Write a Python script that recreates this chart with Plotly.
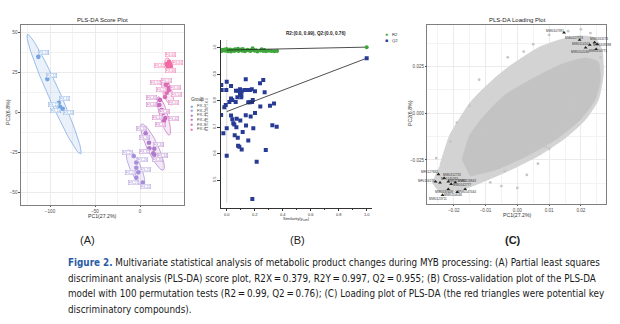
import numpy as np
import plotly.graph_objects as go

W, H = 620, 324

# ---------------- Panel A : PLS-DA score plot ----------------
groups = ["FX-1", "FX-2", "FX-3", "FX-4", "FX-5", "FX-6"]
group_colors = ["#74a3e0", "#a58fd8", "#b07bcc", "#c76cc0", "#dc6cb4", "#f06aa4"]

fx1_pc1 = [-113, -103, -90.3, -91.9, -88.9, -85.9]
fx1_pc2 = [34.7, 20.8, 6.0, 4.4, 3.5, 2.3]
fx1_lab = ["FX-13", "FX-12", "FX-11", "FX-15", "FX-14", "FX-16"]

fx2_pc1 = [-7.0, -4.1, -4.1, -1.9, -4.1, 3.0]
fx2_pc2 = [-27.3, -31.3, -34.6, -37.5, -40.8, -43.8]
fx2_lab = ["FX-25", "FX-26", "FX-24", "FX-23", "FX-21", "FX-22"]

fx3_pc1 = [6.3, 10.0, 10.4, 15.9, 14.8, 15.9]
fx3_pc2 = [-13.1, -19.0, -22.5, -22.7, -25.6, -26.5]
fx3_lab = ["FX-31", "FX-36", "FX-32", "FX-33", "FX-34", "FX-35"]

fx4_pc1 = [22.2, 21.5, 24.1, 25.9, 28.1, 26.7]
fx4_pc2 = [7.7, 4.6, 1.4, -0.3, -3.6, -5.2]
fx4_lab = ["FX-45", "FX-44", "FX-46", "FX-41", "FX-42", "FX-43"]

fx5_pc1 = [28.6, 31.4, 29.7, 32.2, 30.3, 27.8]
fx5_pc2 = [17.3, 15.4, 12.3, 14.0, 18.5, 9.6]
fx5_lab = ["FX-52", "FX-56", "FX-53", "FX-54", "FX-55", "FX-51"]

fx6_pc1 = [29.6, 32.2, 34.1, 31.4, 30.3, 33.3]
fx6_pc2 = [30.2, 31.6, 28.8, 28.4, 29.6, 30.2]
fx6_lab = ["FX-62", "FX-65", "FX-61", "FX-66", "", ""]

# confidence ellipses: major-axis end points (PC1, PC2)
ell_p1 = [(-125, 48.7), (-13.7, -23.6), (1.9, -7.3), (20.4, 9.8), (25.9, 21.2), (29.6, 34.0)]
ell_p2 = [(-66, -26.0), (3.7, -45.9), (25.9, -36.1), (32.6, -14.2), (35.2, 4.6), (34.5, 25.0)]

# ---------------- Panel B : permutation test ----------------
r2_sim = [-0.04, -0.035, -0.03, -0.02, -0.015, -0.01, 0.0, 0.005, 0.01, 0.02, 0.025, 0.03,
          0.04, 0.05, 0.055, 0.06, 0.07, 0.08, 0.085, 0.09, 0.10, 0.11, 0.115, 0.12, 0.13,
          0.14, 0.15, 0.16, 0.17, 0.18, 0.185, 0.19, 0.20, 0.21, 0.22, 0.24, 0.25, 0.26,
          0.27, 0.28, 0.30, 0.32, 0.34, 0.36]
r2_val = [0.990, 0.988, 0.993, 0.991, 0.994, 0.989, 0.996, 0.990, 0.987, 0.992, 0.994, 0.986,
          0.990, 0.993, 0.988, 0.995, 0.991, 0.997, 0.988, 0.992, 0.994, 0.989, 0.996, 0.990,
          0.987, 0.991, 0.993, 0.990, 0.988, 0.994, 0.999, 0.992, 0.989, 0.991, 0.986, 0.990,
          0.995, 0.988, 0.992, 0.987, 0.989, 0.988, 0.987, 0.988]
q2_sim = [-0.039, 0.000, 0.031, -0.036, -0.003, 0.066, 0.083, 0.095, 0.107, 0.126, 0.147,
          0.166, 0.179, 0.202, 0.238, 0.261, 0.136, 0.271, 0.031, 0.040, -0.007, -0.017,
          0.019, 0.064, 0.076, 0.095, 0.104, 0.104, 0.154, 0.166, 0.186, 0.181, 0.240,
          0.309, 0.338, -0.040, 0.031, 0.040, 0.047, 0.054, 0.071, 0.069, 0.097, 0.136,
          0.171, 0.202, 0.138, 0.190, 0.326, 0.357, -0.024, 0.000, 0.057, 0.079, 0.114,
          0.081, 0.090, 0.107, 0.154, 0.279, 0.000, 0.214, 0.183]
q2_val = [0.860, 0.872, 0.856, 0.841, 0.841, 0.838, 0.838, 0.844, 0.835, 0.841, 0.841,
          0.841, 0.844, 0.836, 0.866, 0.879, 0.881, 0.832, 0.809, 0.803, 0.784, 0.775,
          0.795, 0.795, 0.813, 0.826, 0.813, 0.821, 0.794, 0.794, 0.803, 0.795, 0.778,
          0.781, 0.790, 0.746, 0.744, 0.730, 0.715, 0.710, 0.732, 0.700, 0.725, 0.745,
          0.740, 0.754, 0.706, 0.696, 0.707, 0.702, 0.677, 0.696, 0.669, 0.660, 0.682,
          0.630, 0.626, 0.615, 0.650, 0.614, 0.592, 0.569, 0.428]
orig_sim = [1.0]
orig_r2 = [1.003]
orig_q2 = [0.961]
r2_line = [0.992, 1.003]   # intercept, value at similarity 1
q2_line = [0.759, 0.961]
b_yticks = [0.5, 0.6, 0.7, 0.8, 0.9, 1.0]
b_xticks = [0.0, 0.2, 0.4, 0.6, 0.8, 1.0]

# ---------------- Panel C : loading plot ----------------
cloud_outer_x = [-0.0243, -0.0212, -0.0180, -0.0149, -0.0117, -0.0070, -0.0023, 0.0024,
                 0.0071, 0.0134, 0.0197, 0.0244, 0.0266, 0.0270, 0.0254, 0.0213, 0.0150,
                 0.0071, -0.0023, -0.0117, -0.0196, -0.0243, -0.0268]
cloud_outer_y = [-0.0277, -0.0116, -0.0025, 0.0055, 0.0114, 0.0189, 0.0253, 0.0307,
                 0.0355, 0.0393, 0.0414, 0.0403, 0.0339, 0.0205, 0.0071, -0.0036, -0.0133,
                 -0.0223, -0.0304, -0.0373, -0.0421, -0.0421, -0.0368]
cloud_core_x = [-0.0174, -0.0149, -0.0102, -0.0039, 0.0040, 0.0134, 0.0213, 0.0254, 0.0261,
                0.0244, 0.0197, 0.0119, 0.0024, -0.0070, -0.0149]
cloud_core_y = [-0.0250, -0.0116, -0.0009, 0.0098, 0.0178, 0.0259, 0.0296, 0.0275, 0.0178,
                0.0071, -0.0036, -0.0143, -0.0234, -0.0304, -0.0336]
sparse_x = [-0.0050, 0.0000, -0.0085, 0.0030, 0.0065, 0.0100, -0.0110, -0.0150,
            -0.0255, 0.0050, 0.0100, 0.0160, 0.0230, 0.0262, 0.0200, -0.0030,
            -0.0120, -0.0190, 0.0120, 0.0180, 0.0090, -0.0040, 0.0150, -0.0210, 0.0020]
sparse_y = [-0.0390, -0.0400, -0.0370, -0.0330, -0.0270, -0.0190, -0.0090, 0.0040,
            -0.0240, 0.0370, 0.0420, 0.0440, 0.0430, 0.0300, 0.0450, 0.0300,
            0.0180, -0.0050, -0.0120, 0.0050, -0.0180, -0.0310, -0.0080, -0.0150, 0.0330]
key_up_x = [0.0147, 0.0196, 0.0228, 0.0243, 0.0251, 0.0248, 0.0215]
key_up_y = [0.0432, 0.0393, 0.0366, 0.0380, 0.0370, 0.0344, 0.0352]
key_up_lab = ["MW0107391", "MW0127733", "MW0114102", "MW0163274", "MW0109288",
              "MW0154771", "MW0102036"]
key_lo_x = [-0.0248, -0.0257, -0.0243, -0.0230, -0.0217, -0.0208, -0.0217, -0.0189,
            -0.0164, -0.0235, -0.0195]
key_lo_y = [-0.0327, -0.0366, -0.0372, -0.0348, -0.0366, -0.0379, -0.0407, -0.0422,
            -0.0407, -0.0438, -0.0370]
key_lo_lab = ["MF0127682", "MF0116270", "MF0145763", "MW0152732", "MW0137485", "MW0142777",
              "MW0137426", "MW0154046", "MW0147444", "MW0123711", "MW0158843"]

# ---------------- helpers ----------------
FONT = "Liberation Sans"
fig = go.Figure()

def px2x(p):
    return p / W

def px2y(p):
    return 1 - p / H

# subplot geometry (pixels)
A_L, A_R, A_T, A_B = 20.7, 184.0, 25.0, 205.0
B_L, B_R, B_T, B_B = 220.7, 372.0, 40.0, 208.0
C_L, C_R, C_T, C_B = 427.3, 605.7, 25.0, 204.0
A_XR, A_YR = [-132.6, 48.9], [-57.9, 54.6]
B_XR, B_YR = [-0.043, 1.038], [0.394, 1.03]
C_XR, C_YR = [-0.0283, 0.0278], [-0.0486, 0.0473]

sxA = (A_R - A_L) / (A_XR[1] - A_XR[0])
syA = (A_B - A_T) / (A_YR[1] - A_YR[0])


def ellipse_xy(p1, p2, hw_px, sx, sy, n=90):
    x1, y1 = p1[0] * sx, p1[1] * sy
    x2, y2 = p2[0] * sx, p2[1] * sy
    cx, cy = (x1 + x2) / 2, (y1 + y2) / 2
    ax, ay = (x2 - x1) / 2, (y2 - y1) / 2
    L = np.hypot(ax, ay)
    qx, qy = -ay / L * hw_px, ax / L * hw_px
    t = np.linspace(0, 2 * np.pi, n)
    X = cx + ax * np.cos(t) + qx * np.sin(t)
    Y = cy + ay * np.cos(t) + qy * np.sin(t)
    return X / sx, Y / sy


def rgba(hexc, a):
    h = hexc.lstrip("#")
    return "rgba(%d,%d,%d,%.2f)" % (int(h[0:2], 16), int(h[2:4], 16), int(h[4:6], 16), a)

# ---------- Panel A traces ----------
pc1_all = [fx1_pc1, fx2_pc1, fx3_pc1, fx4_pc1, fx5_pc1, fx6_pc1]
pc2_all = [fx1_pc2, fx2_pc2, fx3_pc2, fx4_pc2, fx5_pc2, fx6_pc2]
lab_all = [fx1_lab, fx2_lab, fx3_lab, fx4_lab, fx5_lab, fx6_lab]
ell_hw = [6.0, 5.5, 5.5, 4.0, 4.5, 3.5]
# label offsets in pixels (dx right, dy up)
lab_off = [
    [(5, 4.5), (4.5, 4), (6, 4), (-4, 1), (-5, -4), (6, -4)],
    [(-6, 4), (6, 3), (-6, -5), (7, 3), (-3, -5), (3, -4)],
    [(-4, 5), (-5, 5), (-5, -3), (4.5, 4.5), (9, -2.3), (3.5, -4.3)],
    [(-8.3, 2.7), (-8.3, 0.7), (3, -1.3), (-6, -5), (8.4, 0), (-4, -4)],
    [(-10.7, 2), (7.4, 0), (-5.7, 2.7), (7.7, -5), (-0.6, 2.4), (8.3, -5)],
    [(-6.7, -1.3), (1.7, 7), (6.6, 3.3), (2.4, -3.3), (0, 0), (0, 0)],
]

for gi, g in enumerate(groups):
    ex, ey = ellipse_xy(ell_p1[gi], ell_p2[gi], ell_hw[gi], sxA, syA)
    fig.add_trace(go.Scatter(x=ex, y=ey, mode="lines", fill="toself",
                             fillcolor=rgba(group_colors[gi], 0.15),
                             line=dict(color=group_colors[gi], width=0.7),
                             hoverinfo="skip", showlegend=False, xaxis="x", yaxis="y"))
for gi, g in enumerate(groups):
    fig.add_trace(go.Scatter(x=pc1_all[gi], y=pc2_all[gi], mode="markers",
                             marker=dict(color=group_colors[gi], size=4.6, line=dict(width=0)),
                             showlegend=False, xaxis="x", yaxis="y"))

annotations = []
for gi in range(len(groups)):
    for k, lab in enumerate(lab_all[gi]):
        if not lab:
            continue
        dx, dy = lab_off[gi][k]
        annotations.append(dict(
            x=pc1_all[gi][k], y=pc2_all[gi][k], xref="x", yref="y", text=lab,
            showarrow=False, xshift=dx, yshift=dy,
            font=dict(size=3.6, color=group_colors[gi], family=FONT),
            bgcolor="white", bordercolor=group_colors[gi], borderwidth=0.4, borderpad=0.3))

# ---------- Panel B traces ----------
fig.add_trace(go.Scatter(x=[0, 0], y=[B_YR[0] + 0.02, B_YR[1]], mode="lines",
                         line=dict(color="#d0d0d0", width=0.8), hoverinfo="skip",
                         showlegend=False, xaxis="x2", yaxis="y2"))
fig.add_trace(go.Scatter(x=r2_sim, y=r2_val, mode="markers",
                         marker=dict(color="#3ea53a", size=4, symbol="circle"),
                         showlegend=False, xaxis="x2", yaxis="y2"))
fig.add_trace(go.Scatter(x=q2_sim, y=q2_val, mode="markers",
                         marker=dict(color="#283b94", size=4, symbol="square"),
                         showlegend=False, xaxis="x2", yaxis="y2"))
fig.add_trace(go.Scatter(x=[0] + orig_sim, y=r2_line, mode="lines",
                         line=dict(color="#222222", width=0.8),
                         showlegend=False, xaxis="x2", yaxis="y2"))
fig.add_trace(go.Scatter(x=[0] + orig_sim, y=q2_line, mode="lines",
                         line=dict(color="#222222", width=0.8),
                         showlegend=False, xaxis="x2", yaxis="y2"))
fig.add_trace(go.Scatter(x=orig_sim, y=orig_r2, mode="markers",
                         marker=dict(color="#3ea53a", size=4, symbol="circle"),
                         showlegend=False, xaxis="x2", yaxis="y2"))
fig.add_trace(go.Scatter(x=orig_sim, y=orig_q2, mode="markers",
                         marker=dict(color="#283b94", size=4, symbol="square"),
                         showlegend=False, xaxis="x2", yaxis="y2"))

# ---------- Panel C traces ----------
fig.add_trace(go.Scatter(x=cloud_outer_x, y=cloud_outer_y, mode="lines", fill="toself",
                         fillcolor="#d3d3d3", line=dict(color="#d3d3d3", width=1, shape="spline",
                                                        smoothing=0.6),
                         hoverinfo="skip", showlegend=False, xaxis="x3", yaxis="y3"))
fig.add_trace(go.Scatter(x=cloud_core_x, y=cloud_core_y, mode="lines", fill="toself",
                         fillcolor="#c3c3c3", line=dict(color="#c6c6c6", width=1, shape="spline",
                                                        smoothing=0.6),
                         hoverinfo="skip", showlegend=False, xaxis="x3", yaxis="y3"))
fig.add_trace(go.Scatter(x=sparse_x, y=sparse_y, mode="markers",
                         marker=dict(color="#c6c6c6", size=2.8),
                         hoverinfo="skip", showlegend=False, xaxis="x3", yaxis="y3"))
fig.add_trace(go.Scatter(x=key_up_x + key_lo_x, y=key_up_y + key_lo_y, mode="markers",
                         marker=dict(color="#222222", size=3.4, symbol="triangle-up"),
                         showlegend=False, xaxis="x3", yaxis="y3"))
up_off = [(-9, 2), (-6, 2.3), (-9, 0.7), (4, 3), (5, -0.7), (2, -2), (-6, -4)]
lo_off = [(-9, 2), (-9, 1), (9, 3.5), (8, 3), (9, 1), (11, -1), (-4, -2.5), (-4, -3),
          (2, -3), (-5, -4), (12, 1.5)]
for i, lab in enumerate(key_up_lab):
    annotations.append(dict(x=key_up_x[i], y=key_up_y[i], xref="x3", yref="y3", text=lab,
                            showarrow=False, xshift=up_off[i][0], yshift=up_off[i][1],
                            font=dict(size=3.2, color="#333333", family=FONT)))
for i, lab in enumerate(key_lo_lab):
    annotations.append(dict(x=key_lo_x[i], y=key_lo_y[i], xref="x3", yref="y3", text=lab,
                            showarrow=False, xshift=lo_off[i][0], yshift=lo_off[i][1],
                            font=dict(size=3.2, color="#333333", family=FONT)))

# ---------- axes ----------
grid = "#ebebeb"
tickfont = dict(size=4.6, color="#4d4d4d", family=FONT)
common_bw = dict(showline=True, mirror=True, linecolor="#7f7f7f", linewidth=0.6,
                 gridcolor=grid, gridwidth=0.6, zeroline=False, ticks="outside",
                 ticklen=1.5, tickwidth=0.5, tickcolor="#555555", tickfont=tickfont)

layout_axes = dict(
    xaxis=dict(domain=[px2x(A_L), px2x(A_R)], range=A_XR, tickvals=[-100, -50, 0],
               minor=dict(showgrid=True, dtick=25, gridcolor="#f3f3f3", gridwidth=0.5),
               anchor="y", **common_bw),
    yaxis=dict(domain=[px2y(A_B), px2y(A_T)], range=A_YR, tickvals=[-50, -25, 0, 25, 50],
               minor=dict(showgrid=True, dtick=12.5, gridcolor="#f3f3f3", gridwidth=0.5),
               anchor="x", **common_bw),
    xaxis2=dict(domain=[px2x(B_L), px2x(B_R)], range=B_XR, tickvals=b_xticks,
                ticktext=["%.1f" % v for v in b_xticks], showgrid=False, zeroline=False,
                showline=True, linecolor="#333333", linewidth=0.6, ticks="outside",
                ticklen=2.5, tickwidth=0.5, tickcolor="#333333",
                minor=dict(ticks="outside", dtick=0.1, ticklen=1.5, tickcolor="#333333"),
                tickfont=dict(size=4, color="#333333", family=FONT), anchor="y2"),
    yaxis2=dict(domain=[px2y(B_B), px2y(B_T)], range=B_YR, tickvals=b_yticks,
                ticktext=["%.1f" % v for v in b_yticks], tickangle=-90, showgrid=False,
                zeroline=False, showline=True, linecolor="#333333", linewidth=0.6,
                ticks="outside", ticklen=2.5, tickwidth=0.5, tickcolor="#333333",
                tickfont=dict(size=4, color="#333333", family=FONT), anchor="x2"),
    xaxis3=dict(domain=[px2x(C_L), px2x(C_R)], range=C_XR,
                tickvals=[-0.02, -0.01, 0.0, 0.01, 0.02], tickformat=".2f",
                minor=dict(showgrid=True, dtick=0.005, gridcolor="#f3f3f3", gridwidth=0.5),
                anchor="y3", **common_bw),
    yaxis3=dict(domain=[px2y(C_B), px2y(C_T)], range=C_YR,
                tickvals=[-0.025, 0.0, 0.025], tickformat=".3f",
                minor=dict(showgrid=True, dtick=0.0125, gridcolor="#f3f3f3", gridwidth=0.5),
                anchor="x3", **common_bw),
)

# ---------- text annotations ----------
def txt(x, y, text, size, color="#222222", angle=0, xanchor="center", family=FONT):
    annotations.append(dict(x=px2x(x), y=px2y(y), xref="paper", yref="paper", text=text,
                            showarrow=False, textangle=angle, xanchor=xanchor,
                            yanchor="middle", font=dict(size=size, color=color, family=family)))

# panel A
txt(102, 20, "PLS-DA Score Plot", 6)
txt(102, 216, "PC1(27.2%)", 5.2, "#333333")
txt(8, 112, "PC2(6.8%)", 5.2, "#333333", angle=-90)
txt(189, 99, "Group", 4.6, "#333333", xanchor="left")
for gi, g in enumerate(groups):
    yy = 105.7 + 4.6 * gi
    txt(191.7, yy, "\u25CF", 5, group_colors[gi])
    txt(195, yy, g, 4.2, "#444444", xanchor="left")

# panel B
txt(316, 33, "<b>R2:(0.0, 0.99), Q2:(0.0, 0.76)</b>", 4.6, "#222222")
txt(386, 34, "\u25CF", 5, "#3ea53a")
txt(390, 34, "R2", 4.2, "#333333", xanchor="left")
txt(386, 40, "\u25A0", 5, "#283b94")
txt(390, 40, "Q2", 4.2, "#333333", xanchor="left")
txt(296, 219, "Similarity(y<sub>sum</sub>)", 4, "#333333")
txt(207, 115, "0.1 0.2 0.3 0.4 0.5 0.6", 3.4, "#555555", angle=-90)
txt(202, 99, "R2", 3.4, "#555555", angle=-90)

# panel C
txt(517, 20, "PLS-DA Loading Plot", 6)
txt(517, 214.5, "PC1(27.2%)", 5.2, "#333333")
txt(410, 113, "PC2(6.8%)", 5.2, "#333333", angle=-90)

# panel letters
txt(87, 240, "(A)", 11, "#222222")
txt(297, 240, "(B)", 11, "#222222")
txt(513, 240, "<b>(C)</b>", 11, "#222222")

# caption
CAP = "DejaVu Sans Condensed, Liberation Sans"
cap_lines = [
    "<b><span style='color:#2a5ba6'>Figure 2.</span></b> Multivariate statistical analysis of metabolic product changes during MYB processing: (A) Partial least squares",
    "discriminant analysis (PLS-DA) score plot, R2X\u2009=\u20090.379, R2Y\u2009=\u20090.997, Q2\u2009=\u20090.955; (B) Cross-validation plot of the PLS-DA",
    "model with 100 permutation tests (R2\u2009=\u20090.99, Q2\u2009=\u20090.76); (C) Loading plot of PLS-DA (the red triangles were potential key",
    "discriminatory compounds).",
]
cap_y = [262.3, 278, 293.6, 309]
for line, yy in zip(cap_lines, cap_y):
    txt(66, yy, line, 9.8, "#1a1a1a", xanchor="left", family=CAP)

fig.update_layout(
    width=W, height=H, margin=dict(l=0, r=0, t=0, b=0),
    paper_bgcolor="white", plot_bgcolor="white", showlegend=False,
    annotations=annotations, **layout_axes)

fig.write_html("out.html")
